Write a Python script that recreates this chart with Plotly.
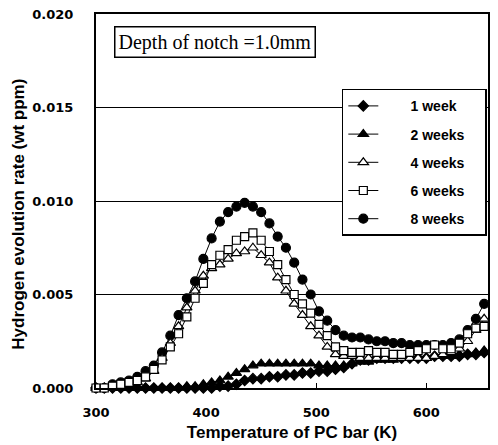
import plotly.graph_objects as go

temperature = [300, 307.5, 315, 322.5, 330, 337.5, 345, 352.5, 360, 367.5, 375, 382.5,
               390, 397.5, 405, 412.5, 420, 427.5, 435, 442.5, 450, 457.5, 465, 472.5,
               480, 487.5, 495, 502.5, 510, 517.5, 525, 532.5, 540, 547.5, 555, 562.5,
               570, 577.5, 585, 592.5, 600, 607.5, 615, 622.5, 630, 637.5, 645, 652.5]

week1 = [0.0000, 0.0000, 0.0000, 0.0000, 0.0000, 0.0000, 0.0000, 0.0000, 0.0000, 0.0000, 0.0000, 0.0000,
         0.0000, 0.0000, 0.0000, 0.0001, 0.0001, 0.0002, 0.0004, 0.0005, 0.0005, 0.0006, 0.0006, 0.0007,
         0.0007, 0.0008, 0.0008, 0.0009, 0.0009, 0.0010, 0.0011, 0.0013, 0.0015, 0.0015, 0.0016, 0.0016,
         0.0016, 0.0016, 0.0016, 0.0016, 0.0016, 0.0017, 0.0017, 0.0017, 0.0017, 0.0018, 0.0018, 0.0019]

week2 = [0.0000, 0.0000, 0.0000, 0.0000, 0.0000, 0.0000, 0.0000, 0.0000, 0.0000, 0.0000, 0.0000, 0.0001,
         0.0001, 0.0002, 0.0003, 0.0004, 0.0006, 0.0008, 0.0010, 0.0012, 0.0013, 0.0013, 0.0013, 0.0013,
         0.0013, 0.0013, 0.0013, 0.0012, 0.0012, 0.0012, 0.0012, 0.0013, 0.0014, 0.0014, 0.0015, 0.0015,
         0.0015, 0.0016, 0.0016, 0.0016, 0.0016, 0.0017, 0.0017, 0.0017, 0.0018, 0.0018, 0.0019, 0.0020]

week4 = [0.0000, 0.0000, 0.0001, 0.0001, 0.0002, 0.0003, 0.0005, 0.0009, 0.0016, 0.0024, 0.0033, 0.0043,
         0.0052, 0.0060, 0.0064, 0.0066, 0.0069, 0.0072, 0.0073, 0.0075, 0.0071, 0.0067, 0.0059, 0.0052,
         0.0045, 0.0039, 0.0033, 0.0028, 0.0022, 0.0018, 0.0017, 0.0017, 0.0016, 0.0016, 0.0016, 0.0016,
         0.0016, 0.0016, 0.0016, 0.0016, 0.0016, 0.0017, 0.0018, 0.0019, 0.0021, 0.0025, 0.0031, 0.0037]

week6 = [0.0000, 0.0000, 0.0001, 0.0002, 0.0003, 0.0004, 0.0006, 0.0010, 0.0015, 0.0022, 0.0029, 0.0038,
         0.0048, 0.0056, 0.0066, 0.0071, 0.0074, 0.0079, 0.0081, 0.0083, 0.0079, 0.0073, 0.0066, 0.0058,
         0.0050, 0.0045, 0.0040, 0.0034, 0.0028, 0.0022, 0.0020, 0.0019, 0.0019, 0.0020, 0.0019, 0.0019,
         0.0018, 0.0018, 0.0019, 0.0020, 0.0021, 0.0023, 0.0021, 0.0021, 0.0024, 0.0029, 0.0032, 0.0033]

week8 = [0.0000, 0.0000, 0.0002, 0.0003, 0.0004, 0.0006, 0.0009, 0.0012, 0.0019, 0.0028, 0.0039, 0.0048,
         0.0057, 0.0069, 0.0080, 0.0089, 0.0094, 0.0097, 0.0099, 0.0097, 0.0094, 0.0088, 0.0081, 0.0075,
         0.0067, 0.0058, 0.0050, 0.0041, 0.0036, 0.0031, 0.0028, 0.0027, 0.0027, 0.0026, 0.0025, 0.0025,
         0.0024, 0.0024, 0.0023, 0.0023, 0.0023, 0.0023, 0.0023, 0.0024, 0.0026, 0.0031, 0.0037, 0.0045]

series_names = ["1 week", "2 weeks", "4 weeks", "6 weeks", "8 weeks"]
x_ticks = [300, 400, 500, 600]
y_ticks = [0.000, 0.005, 0.010, 0.015, 0.020]

styles = {
    "1 week": dict(symbol="diamond", color="black", size=8),
    "2 weeks": dict(symbol="triangle-up", color="black", size=9),
    "4 weeks": dict(symbol="triangle-up", color="white", size=9),
    "6 weeks": dict(symbol="square", color="white", size=8),
    "8 weeks": dict(symbol="circle", color="black", size=9),
}
data = {"1 week": week1, "2 weeks": week2, "4 weeks": week4, "6 weeks": week6, "8 weeks": week8}

lead = "\u00a0" * 7
trail = "\u00a0" * 4
fig = go.Figure()
draw_order = ["8 weeks", "1 week", "2 weeks", "4 weeks", "6 weeks"]
for name in draw_order:
    st = styles[name]
    fig.add_trace(go.Scatter(
        x=temperature, y=data[name], name=lead + name + trail, mode="lines+markers",
        legendgroup=name, legendrank=series_names.index(name) + 1,
        cliponaxis=False,
        line=dict(color="black", width=1),
        marker=dict(symbol=st["symbol"], size=st["size"], color=st["color"],
                    line=dict(color="black", width=1.2)),
    ))

tick_font = dict(family="DejaVu Sans", size=13, color="black", weight="bold")
title_font = dict(family="Liberation Sans", size=17, color="black", weight="bold")

fig.update_layout(
    width=490, height=437,
    margin=dict(l=88, r=10, t=6, b=57),
    paper_bgcolor="white", plot_bgcolor="white",
    font=tick_font,
    showlegend=True,
    legend=dict(
        x=0.997, y=0.80, xanchor="right", yanchor="top",
        bgcolor="white", bordercolor="black", borderwidth=1.5,
        font=dict(family="Liberation Sans", size=14, color="black", weight="bold"),
        tracegroupgap=7,
        itemwidth=30,
    ),
    xaxis=dict(
        range=[300, 656], tickvals=x_ticks, ticks="inside", ticklen=5,
        tickcolor="black", showgrid=False, zeroline=False,
        showline=True, linecolor="black", linewidth=2, mirror=True,
        ticklabelstandoff=11, tickfont=tick_font, automargin=False,
        ticklabeloverflow="allow",
        title=dict(text="Temperature of PC bar (K)", standoff=8, font=title_font),
    ),
    yaxis=dict(
        range=[0, 0.020], tickvals=y_ticks, tickformat=".3f", ticks="",
        showgrid=True, gridcolor="black", gridwidth=1, zeroline=False,
        showline=True, linecolor="black", linewidth=2, mirror=True,
        ticklabelstandoff=18, tickfont=tick_font, automargin=False,
        ticklabeloverflow="allow",
    ),
    annotations=[
        dict(
            text="Depth of notch =1.0mm", xref="paper", yref="paper",
            x=0.304, y=0.924, xanchor="center", yanchor="middle", showarrow=False,
            font=dict(family="Liberation Serif", size=20, color="black", weight="normal"),
            bgcolor="white", bordercolor="black", borderwidth=1.5, borderpad=3,
        ),
        dict(
            text="Hydrogen evolution rate (wt ppm)", xref="paper", yref="paper",
            x=-0.2, y=0.465, xanchor="center", yanchor="middle", showarrow=False,
            textangle=-90, font=title_font,
        ),
    ],
)

fig.write_html("out.html")
